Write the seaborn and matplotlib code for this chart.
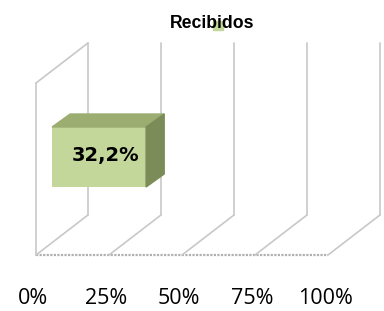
import matplotlib
matplotlib.use("Agg")
import matplotlib.pyplot as plt
import seaborn as sns

# chart data
category = "Recibidos"
values = [32.2]
value_labels = ["32,2%"]
ticks = [0, 25, 50, 75, 100]
tick_labels = ["0%", "25%", "50%", "75%", "100%"]

sns.set_theme(style="white")
plt.rcParams['font.family'] = ['Open Sans', 'DejaVu Sans']

fig = plt.figure(figsize=(3.84, 3.11), dpi=100)
ax = fig.add_axes([0, 0, 1, 1])
ax.set_xlim(-36 / 2.92, (384 - 36) / 2.92)
ax.set_ylim(-56, 255)
ax.axis("off")

# fake 3D walls
dx, dy = 17.8, 40
wall_top = 212
grid = "#c8c8c8"
ax.plot([0, 0], [0, wall_top - dy], color=grid, lw=1.2)
ax.plot([0, dx], [wall_top - dy, wall_top], color=grid, lw=1.2)
ax.plot([0, 100], [0, 0], color="#b0b0b0", lw=1.6, ls=(0, (1, 0.6)))
for t in ticks:
    ax.plot([t, t + dx], [0, dy], color=grid, lw=1.2)
    ax.plot([t + dx, t + dx], [dy, wall_top], color=grid, lw=1.2)

# bar
front_left, front_bot, bar_h = 5.5, 68, 60
ox, oy = 6.2, 13
for v, lab in zip(values, value_labels):
    ax.barh(front_bot + bar_h / 2, v, left=front_left, height=bar_h,
            color="#c4d79b", edgecolor="none", zorder=3)
    r = front_left + v
    ax.fill([front_left, r, r + ox, front_left + ox],
            [front_bot + bar_h, front_bot + bar_h, front_bot + bar_h + oy, front_bot + bar_h + oy],
            color="#9bad71", zorder=3)
    ax.fill([r, r + ox, r + ox, r],
            [front_bot, front_bot + oy, front_bot + bar_h + oy, front_bot + bar_h],
            color="#7b8c58", zorder=3)
    ax.text(front_left + v / 2 + 2.2, front_bot + bar_h / 2 + 1, lab, ha="center", va="center",
            fontsize=14, fontweight="bold", family=["DejaVu Sans"], color="black", zorder=4)

# tick labels
for t, lab in zip(ticks, tick_labels):
    ax.text(t - 1, -43, lab, ha="center", va="center", fontsize=15.5, color="black")

# legend key peeking behind title, then title
fig.patches.append(plt.Rectangle((213 / 384, 1 - 30 / 311), 10 / 384, 9 / 311,
                                 transform=fig.transFigure, color="#c4d79b"))
fig.text(212 / 384, 1 - 27.7 / 311, category, ha="center", va="baseline",
         fontsize=12.7, fontweight="bold", family=["Liberation Sans"], color="black")

fig.savefig("out.png", dpi=100)
